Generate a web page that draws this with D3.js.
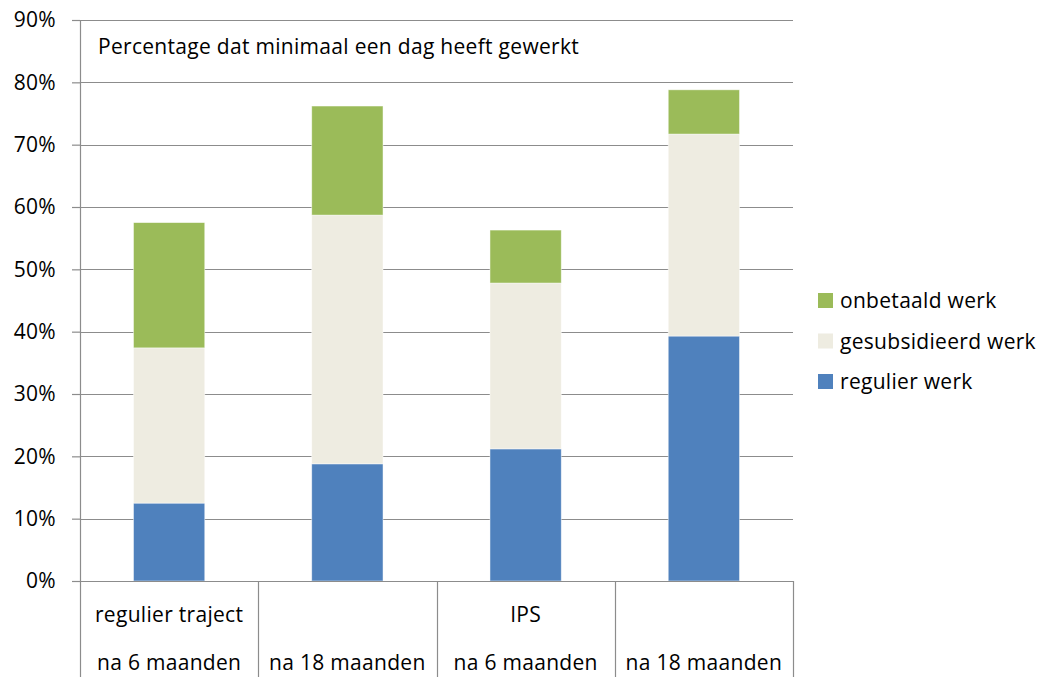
<!DOCTYPE html>
<html>
<head>
<meta charset="utf-8">
<script src="https://cdn.jsdelivr.net/npm/d3@7"></script>
<style>
  body { margin: 0; background: #fff; }
  text { font-family: "Open Sans", sans-serif; fill: #000; letter-spacing: 0.3px; }
</style>
</head>
<body>
<svg id="chart" width="1045" height="677"></svg>
<script>
// categories (two-level axis)
const groups = ["regulier traject", "", "IPS", ""];
const periods = ["na 6 maanden", "na 18 maanden", "na 6 maanden", "na 18 maanden"];

// series values (%)
const regulier = [12.5, 18.8, 21.2, 39.3];
const gesubsidieerd = [24.9, 39.9, 26.6, 32.4];
const onbetaald = [20.1, 17.5, 8.5, 7.1];

const seriesNames = ["regulier werk", "gesubsidieerd werk", "onbetaald werk"];
const seriesColors = ["#4F81BD", "#EEECE1", "#9BBB59"];
const yTicks = [0, 10, 20, 30, 40, 50, 60, 70, 80, 90];

const title = "Percentage dat minimaal een dag heeft gewerkt";

const svg = d3.select("#chart");
const margin = { top: 20, right: 252, bottom: 96, left: 80 };
const width = 1045 - margin.left - margin.right;
const height = 677 - margin.top - margin.bottom;
const fontSize = "21px";

const g = svg.append("g").attr("transform", `translate(${margin.left},${margin.top})`);

const x = d3.scaleBand()
  .domain(d3.range(periods.length))
  .range([0, width])
  .paddingInner(0.6)
  .paddingOuter(0.3);

const y = d3.scaleLinear().domain([0, 90]).range([height, 0]);

// gridlines
g.append("g")
  .selectAll("line")
  .data(yTicks)
  .enter()
  .append("line")
  .attr("x1", 0)
  .attr("x2", width)
  .attr("y1", (d) => Math.round(y(d)) + 0.5)
  .attr("y2", (d) => Math.round(y(d)) + 0.5)
  .attr("stroke", "#8c8c8c")
  .attr("stroke-width", 1.2);

// stack the data
const rows = periods.map((p, i) => ({
  i,
  "regulier werk": regulier[i],
  "gesubsidieerd werk": gesubsidieerd[i],
  "onbetaald werk": onbetaald[i]
}));
const stacked = d3.stack().keys(seriesNames)(rows);

g.selectAll("g.series")
  .data(stacked)
  .enter()
  .append("g")
  .attr("class", "series")
  .attr("fill", (d, k) => seriesColors[k])
  .selectAll("rect")
  .data((d) => d)
  .enter()
  .append("rect")
  .attr("x", (d) => x(d.data.i))
  .attr("y", (d) => y(d[1]))
  .attr("width", x.bandwidth())
  .attr("height", (d) => y(d[0]) - y(d[1]))
  .attr("stroke", "rgba(255,255,255,0.6)")
  .attr("stroke-width", 0.8);

// y axis
const yAxis = g.append("g")
  .call(d3.axisLeft(y).tickValues(yTicks).tickFormat((d) => d + "%").tickSize(8).tickPadding(16));
yAxis.select(".domain").attr("stroke", "#8c8c8c").attr("stroke-width", 1.2);
yAxis.selectAll(".tick line").attr("stroke", "#8c8c8c").attr("stroke-width", 1.2);
yAxis.selectAll(".tick text")
  .attr("font-size", fontSize)
  .attr("font-family", "'Open Sans', sans-serif")
  .attr("fill", "#000");

// category axis with boxes
const step = x.step();
const catAxis = g.append("g").attr("transform", `translate(0,${height})`);
catAxis.append("line")
  .attr("x1", -8).attr("x2", width)
  .attr("y1", 0.5).attr("y2", 0.5)
  .attr("stroke", "#8c8c8c").attr("stroke-width", 1.2);
catAxis.selectAll("line.div")
  .data(d3.range(periods.length + 1))
  .enter()
  .append("line")
  .attr("class", "div")
  .attr("x1", (d) => Math.round(d * step) + 0.5)
  .attr("x2", (d) => Math.round(d * step) + 0.5)
  .attr("y1", 0)
  .attr("y2", margin.bottom)
  .attr("stroke", "#8c8c8c")
  .attr("stroke-width", 1.2);
catAxis.selectAll("text.group")
  .data(groups)
  .enter()
  .append("text")
  .attr("class", "group")
  .attr("x", (d, i) => (i + 0.5) * step)
  .attr("y", 41)
  .attr("text-anchor", "middle")
  .attr("font-size", fontSize)
  .text((d) => d);
catAxis.selectAll("text.period")
  .data(periods)
  .enter()
  .append("text")
  .attr("class", "period")
  .attr("x", (d, i) => (i + 0.5) * step)
  .attr("y", 89)
  .attr("text-anchor", "middle")
  .attr("font-size", fontSize)
  .text((d) => d);

// title inside plot
g.append("text")
  .attr("x", 18)
  .attr("y", 34)
  .attr("font-size", fontSize)
  .text(title);

// legend (reverse order, top = onbetaald)
const legend = svg.append("g").attr("transform", "translate(818,293)");
const legendItems = seriesNames.map((n, k) => ({ n, c: seriesColors[k] })).reverse();
const li = legend.selectAll("g")
  .data(legendItems)
  .enter()
  .append("g")
  .attr("transform", (d, i) => `translate(0,${i * 40.5})`);
li.append("rect").attr("width", 15).attr("height", 15).attr("fill", (d) => d.c);
li.append("text")
  .attr("x", 22)
  .attr("y", 15)
  .attr("font-size", fontSize)
  .text((d) => d.n);
</script>
</body>
</html>
